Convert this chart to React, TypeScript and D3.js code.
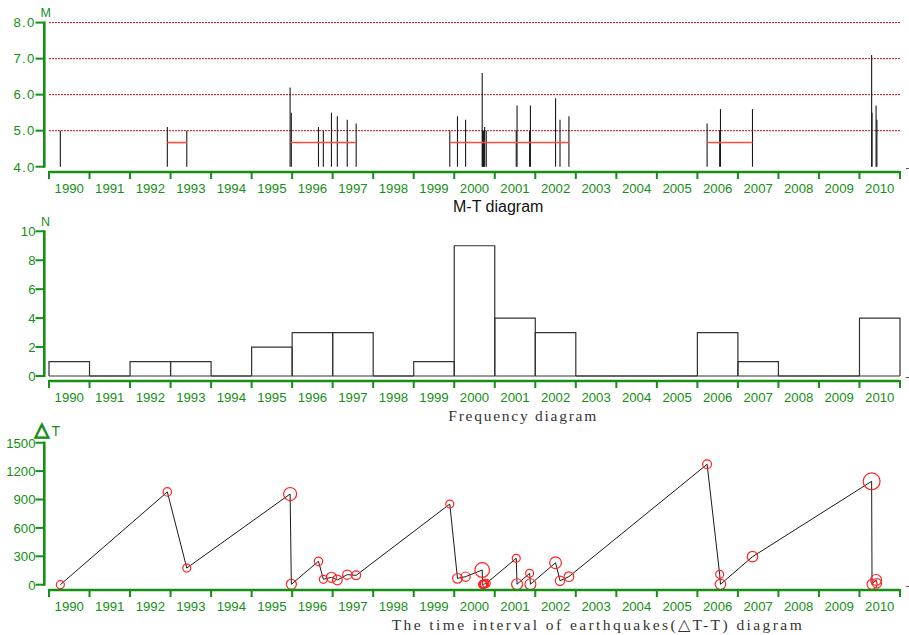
import React from "react";
import * as d3 from "d3";

// ---------- data ----------
const yearLabels = d3.range(1990, 2011).map(String);
const eventTimes = [
  1990.28, 1992.92, 1993.40, 1995.95, 1995.98, 1996.65, 1996.77, 1996.97, 1997.115, 1997.36, 1997.58,
  1999.89, 2000.08, 2000.28, 2000.69, 2000.70, 2000.71, 2000.72, 2000.73, 2000.75, 2000.79,
  2001.53, 2001.55, 2001.86, 2001.88, 2002.50, 2002.61, 2002.83,
  2006.24, 2006.55, 2006.57, 2007.36, 2010.30, 2010.31, 2010.41, 2010.43,
];
const eventMags = [
  5.0, 5.1, 5.0, 6.2, 5.5, 5.1, 5.0, 5.5, 5.4, 5.3, 5.2,
  5.0, 5.4, 5.3, 6.6, 5.0, 5.0, 5.0, 5.0, 5.1, 5.0,
  5.0, 5.7, 5.0, 5.7, 5.9, 5.3, 5.4,
  5.2, 5.0, 5.6, 5.6, 7.1, 5.5, 5.7, 5.3,
];
const eventDeltaT = [
  0, 980, 176, 958, 4, 247, 57, 78, 50, 106, 99,
  852, 67, 85, 155, 3, 4, 4, 4, 8, 14,
  279, 5, 120, 5, 232, 42, 85,
  1272, 110, 4, 296, 1092, 4, 50, 15,
];
const frequencyCounts = [1, 0, 1, 1, 0, 2, 3, 3, 0, 1, 9, 4, 3, 0, 0, 0, 3, 1, 0, 0, 4];
const groupStarts = [1992.92, 1995.97, 1999.89, 2006.24];
const groupEnds = [1993.40, 1997.58, 2002.83, 2007.36];
const groupLevel = 4.67;
const mTicks = [4, 5, 6, 7, 8];
const mTickLabels = ["4.0", "5.0", "6.0", "7.0", "8.0"];
const mGridLines = [5, 6, 7, 8];
const nTicks = [0, 2, 4, 6, 8, 10];
const dtTicks = [0, 300, 600, 900, 1200, 1500];

// ---------- layout ----------
const W = 909, H = 635;
const GREEN = "#149014";
const AXIS_X = 44.3;
const tickFont = "'Liberation Sans', Arial, sans-serif";

const x = d3.scaleLinear().domain([1990, 2011]).range([49, 900]);
const yM = d3.scaleLinear().domain([4, 8]).range([166.7, 22.6]);
const yN = d3.scaleLinear().domain([0, 10]).range([376, 231.3]);
const yDT = d3.scaleLinear().domain([0, 1500]).range([584.7, 442.7]);
const rScale = d3.scaleLinear().domain([5, 7]).range([4, 8.2]);

const events = eventTimes.map((t, i) => ({ t, m: eventMags[i], dt: eventDeltaT[i] }));

function XAxis({ y }: { y: number }) {
  const bounds = d3.range(1990, 2012);
  return (
    <g>
      <line x1={x(1990)} x2={x(2011)} y1={y} y2={y} stroke={GREEN} strokeWidth={2.6} />
      {bounds.map((b) => (
        <line key={b} x1={x(b)} x2={x(b)} y1={y - 1} y2={y + 7} stroke={GREEN} strokeWidth={2} />
      ))}
      {yearLabels.map((lab, i) => (
        <text key={lab} x={x(1990 + i + 0.5)} y={y + 20.8} textAnchor="middle" fill={GREEN}
          fontFamily={tickFont} fontSize={13.2}>{lab}</text>
      ))}
      <line x1={906} x2={909} y1={y - 3.5} y2={y - 3.5} stroke="#555" strokeWidth={1} />
    </g>
  );
}

function YAxis({ scale, ticks, labels, spacing = 0 }: { scale: d3.ScaleLinear<number, number>; ticks: number[]; labels: string[]; spacing?: number }) {
  const [d0, d1] = scale.domain();
  return (
    <g>
      <line x1={AXIS_X} x2={AXIS_X} y1={scale(d1) - 1} y2={scale(d0) + 1} stroke={GREEN} strokeWidth={2.6} />
      {ticks.map((t, i) => (
        <g key={t}>
          <line x1={35.5} x2={AXIS_X} y1={scale(t)} y2={scale(t)} stroke={GREEN} strokeWidth={2} />
          <text x={35.5} y={scale(t) + 4.8} textAnchor="end" fill={GREEN} fontFamily={tickFont}
            fontSize={13.2} letterSpacing={spacing}>{labels[i]}</text>
        </g>
      ))}
    </g>
  );
}

export default function App() {
  const dtLine = d3.line<{ t: number; dt: number }>().x((d) => x(d.t)).y((d) => yDT(d.dt));
  return (
    <svg width={W} height={H} style={{ position: "absolute", left: 0, top: 0, background: "#fff" }}>
      <rect x={0} y={0} width={W} height={H} fill="#fff" />

      {/* ---------- M-T diagram ---------- */}
      {mGridLines.map((m) => (
        <line key={m} x1={x(1990)} x2={x(2011)} y1={yM(m)} y2={yM(m)} stroke="#b3121b"
          strokeWidth={1} strokeDasharray="2,1" />
      ))}
      {events.map((e, i) => (
        <line key={i} x1={x(e.t)} x2={x(e.t)} y1={yM(4)} y2={yM(e.m)} stroke="#1a1a1a" strokeWidth={1.1} />
      ))}
      {groupStarts.map((s, i) => (
        <line key={i} x1={x(s)} x2={x(groupEnds[i])} y1={yM(groupLevel)} y2={yM(groupLevel)}
          stroke="#ff4b3a" strokeWidth={1.6} />
      ))}
      <YAxis scale={yM} ticks={mTicks} labels={mTickLabels} spacing={1.2} />
      <text x={40.5} y={17} fill={GREEN} fontFamily={tickFont} fontSize={12.5}>M</text>
      <XAxis y={172} />
      <text x={453} y={212.3} fill="#111" fontFamily={tickFont} fontSize={16}>M-T diagram</text>

      {/* ---------- Frequency diagram ---------- */}
      {frequencyCounts.map((c, i) => {
        const x0 = x(1990 + i), x1 = x(1991 + i);
        const y0 = yN(0), y1 = yN(c);
        return (
          <path key={i} d={`M${x0},${y0}V${y1}H${x1}V${y0}`} fill="none" stroke="#333" strokeWidth={1.2} />
        );
      })}
      <line x1={x(1990)} x2={x(2011)} y1={yN(0)} y2={yN(0)} stroke="#333" strokeWidth={1.2} />
      <YAxis scale={yN} ticks={nTicks} labels={nTicks.map(String)} />
      <text x={41} y={225.5} fill={GREEN} fontFamily={tickFont} fontSize={12.5}>N</text>
      <XAxis y={381} />
      <text x={448.3} y={420.5} fill="#333" fontFamily="'Liberation Serif', serif" fontSize={15.5}
        textLength={148} lengthAdjust="spacing">Frequency diagram</text>

      {/* ---------- ΔT-T diagram ---------- */}
      <path d={dtLine(events) || ""} fill="none" stroke="#1a1a1a" strokeWidth={1} />
      {events.map((e, i) => (
        <circle key={i} cx={x(e.t)} cy={yDT(e.dt)} r={rScale(e.m)} fill="none" stroke="#ff2222" strokeWidth={1.2} />
      ))}
      <YAxis scale={yDT} ticks={dtTicks} labels={dtTicks.map(String)} />
      <text x={34.5} y={436} fill={GREEN} fontFamily="'DejaVu Sans', sans-serif" fontSize={19}
        stroke={GREEN} strokeWidth={1.3}>△</text>
      <text x={51.5} y={435.5} fill={GREEN} fontFamily={tickFont} fontSize={14}>T</text>
      <XAxis y={590} />
      <text x={391.7} y={630} fill="#333" fontFamily="'Liberation Serif', serif" fontSize={15.5}
        textLength={410} lengthAdjust="spacing">The time interval of earthquakes(△T-T) diagram</text>
    </svg>
  );
}
